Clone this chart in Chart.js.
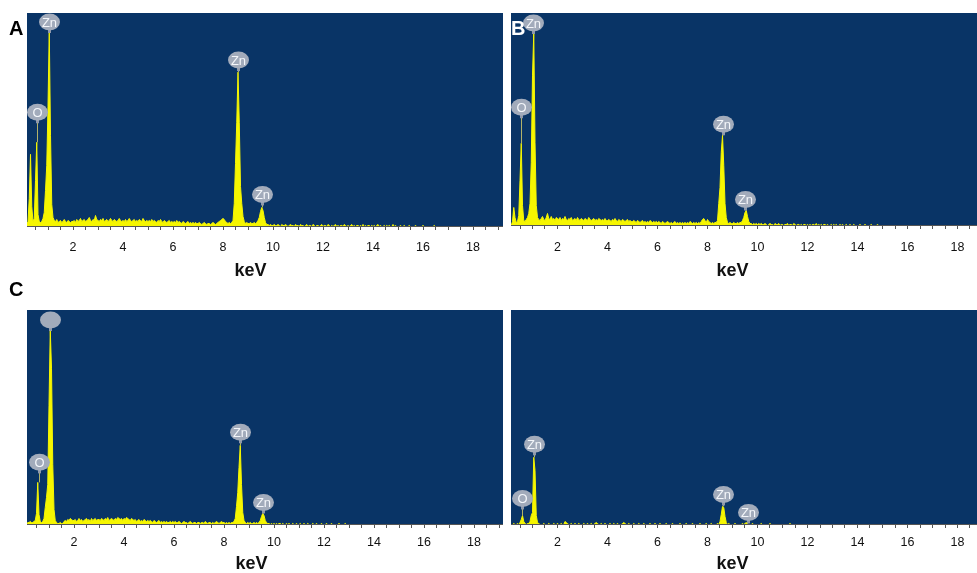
<!DOCTYPE html>
<html>
<head>
<meta charset="utf-8">
<script src="https://cdn.jsdelivr.net/npm/chart.js@4.4.1/dist/chart.umd.min.js"></script>
<style>
  body { margin: 0; width: 977px; height: 573px; overflow: hidden; background: #fff; position: relative; }
  .panel { position: absolute; }
  .tag { position: absolute; font: bold 20px Arial, "Liberation Sans", sans-serif; line-height: 20px; color: #000; z-index: 2; }
</style>
</head>
<body>
<div class="panel" style="left:0;top:0"><canvas id="specA" width="503" height="290"></canvas></div>
<div class="panel" style="left:503px;top:0"><canvas id="specB" width="474" height="290"></canvas></div>
<div class="panel" style="left:0;top:290px"><canvas id="specC" width="503" height="290"></canvas></div>
<div class="panel" style="left:503px;top:290px"><canvas id="specD" width="474" height="290"></canvas></div>
<div class="tag" style="left:9px;top:18px">A</div>
<div class="tag" style="left:511px;top:18px;color:#fff">B</div>
<div class="tag" style="left:9px;top:279px">C</div>

<script>
// channel width in keV, channel i sits at i * keVStep (0 .. 19.2 keV)
const keVStep = 0.05;

// counts per channel, one row per keV
const countsA = [
  0,0,0,3,5,28,72,20,5,8,46,84,12,5,4,5,8,14,36,61,
  120,196,91,22,9,6,5,7,4,5,6,4,5,7,5,4,6,5,4,5,
  5,6,4,7,5,6,8,5,6,7,5,6,7,9,6,5,7,6,11,7,
  6,5,7,6,8,5,6,7,5,6,8,6,5,7,6,5,6,8,6,5,
  6,5,7,5,6,8,6,5,6,7,5,6,5,7,6,5,8,6,5,6,
  5,6,5,7,5,6,5,4,6,5,7,5,4,6,5,4,5,6,4,5,
  4,5,4,6,4,5,4,3,5,4,3,4,5,3,4,3,4,3,4,3,
  3,4,3,2,3,4,3,2,3,3,2,3,4,3,2,3,4,5,6,7,
  8,7,5,4,3,4,3,4,6,23,63,104,154,104,40,23,10,5,3,4,
  3,3,4,3,3,4,3,4,6,9,15,19,16,9,4,2,2,1,2,1,
  1,2,1,1,2,1,0,2,1,1,2,1,0,1,2,1,1,0,2,1,
  1,0,2,1,1,0,1,2,0,1,1,0,2,1,0,1,1,0,1,2,
  0,1,1,0,2,1,0,1,0,1,2,0,1,0,1,1,0,2,1,0,
  1,0,1,2,0,1,0,1,1,0,1,0,2,0,1,0,1,1,0,1,
  0,1,0,1,2,0,1,0,0,1,0,1,0,1,0,0,2,0,1,0,
  0,0,1,0,0,1,0,0,0,1,0,0,0,0,1,0,0,0,0,0,
  1,0,0,0,0,0,0,0,0,1,0,0,0,0,0,0,0,0,0,0,
  0,0,0,0,0,0,0,0,0,0,0,0,0,0,0,0,0,0,0,0,
  0,0,0,0,0,0,0,0,0,0,0,0,0,0,0,0,0,0,0,0,
  0,0,0,0,0
];
const countsB = [
  0,0,0,0,4,18,8,3,4,10,45,82,20,5,4,6,8,12,22,63,
  150,192,83,20,8,6,5,7,9,6,5,8,12,7,6,9,6,7,5,8,
  7,6,8,5,7,6,9,6,5,7,6,8,5,6,7,5,8,6,5,7,
  6,5,7,6,5,8,6,5,6,7,5,6,5,7,6,5,6,5,7,5,
  5,6,5,4,6,5,7,5,4,6,5,4,6,5,4,5,6,4,5,4,
  4,5,4,3,5,4,3,4,5,3,4,3,4,3,5,4,3,4,3,4,
  3,4,3,2,4,3,2,3,4,3,2,3,2,3,4,2,3,2,3,2,
  3,2,3,2,3,2,4,3,2,3,2,3,2,3,2,4,6,7,5,3,
  6,4,3,2,3,2,3,3,5,22,38,73,90,60,22,8,3,2,3,2,
  2,3,2,2,3,2,3,3,5,8,13,15,9,4,2,2,1,2,1,2,
  1,2,1,2,1,1,2,1,0,1,2,1,1,0,2,1,1,2,0,1,
  1,0,1,1,2,0,1,1,0,2,1,0,1,1,0,1,0,1,1,0,
  1,0,1,0,1,1,0,2,0,1,0,1,0,1,1,0,1,0,0,1,
  0,1,0,1,0,0,1,0,1,0,0,1,0,0,1,0,0,1,0,0,
  0,0,1,0,0,0,1,0,0,0,0,1,0,0,0,0,1,0,0,0,
  0,0,0,0,0,0,0,0,0,0,0,0,0,0,0,0,0,0,0,0,
  0,0,0,0,0,0,0,0,0,0,0,0,0,0,0,0,0,0,0,0,
  0,0,0,0,0,0,0,0,0,0,0,0,0,0,0,0,0,0,0,0,
  0,0,0,0,0,0,0,0,0,0,0,0,0,0,0,0,0,0,0,0,
  0,0,0,0,0
];
const countsC = [
  0,0,0,2,2,3,2,2,3,4,11,42,10,3,2,3,6,17,27,40,
  119,194,156,60,15,4,2,1,1,2,1,1,3,4,3,5,4,6,5,4,
  4,5,3,4,6,4,5,3,4,5,6,4,5,3,6,4,5,6,4,5,
  5,4,6,5,4,6,5,7,4,5,6,5,4,6,5,7,6,5,6,4,
  6,5,7,6,5,4,6,5,4,5,3,4,5,3,4,3,5,4,3,4,
  3,4,3,2,4,3,2,3,4,2,3,2,3,2,3,2,2,3,2,3,
  2,3,2,2,3,2,1,2,3,2,2,1,2,3,2,1,2,2,1,2,
  2,1,2,2,1,3,2,1,2,2,1,2,1,2,3,2,1,2,3,2,
  2,1,2,1,2,1,2,2,3,6,18,32,57,79,40,12,4,2,1,2,
  1,2,1,1,2,1,2,1,2,4,8,11,9,4,2,1,1,0,1,0,
  1,0,1,0,1,1,0,1,0,0,1,0,1,0,0,1,0,0,1,0,
  0,1,0,0,1,0,0,1,0,0,0,1,0,0,1,0,0,0,1,0,
  0,0,1,0,0,0,1,0,0,0,0,0,1,0,0,0,0,1,0,0,
  0,0,0,0,0,0,0,0,0,0,0,0,0,0,0,0,0,0,0,0,
  0,0,0,0,0,0,0,0,0,0,0,0,0,0,0,0,0,0,0,0,
  0,0,0,0,0,0,0,0,0,0,0,0,0,0,0,0,0,0,0,0,
  0,0,0,0,0,0,0,0,0,0,0,0,0,0,0,0,0,0,0,0,
  0,0,0,0,0,0,0,0,0,0,0,0,0,0,0,0,0,0,0,0,
  0,0,0,0,0,0,0,0,0,0,0,0,0,0,0,0,0,0,0,0,
  0,0,0,0,0
];
const countsD = [
  0,0,0,0,0,1,0,0,1,0,2,5,9,3,1,0,1,1,3,9,
  12,67,54,9,2,1,0,0,0,1,0,0,0,1,0,0,0,1,0,0,
  1,0,0,1,0,0,3,2,1,0,0,1,0,0,1,0,0,1,0,0,
  0,1,0,0,1,0,0,1,0,0,1,2,1,0,0,1,0,0,1,0,
  0,0,1,0,0,1,0,0,1,0,0,0,1,2,1,0,0,1,0,0,
  0,1,0,0,0,1,0,0,0,1,0,0,0,0,1,0,0,0,1,0,
  0,0,1,0,0,0,0,1,0,0,0,0,1,0,0,0,0,0,1,0,
  0,0,0,1,0,0,0,0,1,0,0,0,0,0,1,0,0,0,0,1,
  0,0,0,1,0,0,0,0,1,0,3,10,18,17,8,2,0,1,0,0,
  0,0,1,0,0,0,0,0,1,0,1,2,1,0,0,0,1,0,0,0,
  0,0,0,1,0,0,0,0,0,0,1,0,0,0,0,0,0,0,0,0,
  0,0,0,0,0,0,1,0,0,0,0,0,0,0,0,0,0,0,0,0,
  0,0,0,0,0,0,0,0,0,0,0,0,0,0,0,0,0,0,0,0,
  0,0,0,0,0,0,0,0,0,0,0,0,0,0,0,0,0,0,0,0,
  0,0,0,0,0,0,0,0,0,0,0,0,0,0,0,0,0,0,0,0,
  0,0,0,0,0,0,0,0,0,0,0,0,0,0,0,0,0,0,0,0,
  0,0,0,0,0,0,0,0,0,0,0,0,0,0,0,0,0,0,0,0,
  0,0,0,0,0,0,0,0,0,0,0,0,0,0,0,0,0,0,0,0,
  0,0,0,0,0,0,0,0,0,0,0,0,0,0,0,0,0,0,0,0,
  0,0,0,0,0
];

// element markers: energy, height of the bubble, text
const tagKeVA = [1.04, 0.56, 8.61, 9.56];
const tagAtA = [204, 114, 166, 32];
const tagTextA = ['Zn', 'O', 'Zn', 'Zn'];
const tagKeVB = [1.02, 0.54, 8.62, 9.5];
const tagAtB = [202, 118, 101, 26];
const tagTextB = ['Zn', 'O', 'Zn', 'Zn'];
const tagKeVC = [1.04, 0.58, 8.62, 9.56];
const tagAtC = [204, 62, 92, 22];
const tagTextC = ['', 'O', 'Zn', 'Zn'];
const tagKeVD = [1.05, 0.59, 8.63, 9.6];
const tagAtD = [80, 26, 30, 12];
const tagTextD = ['Zn', 'O', 'Zn', 'Zn'];

const tickLabels = [2, 4, 6, 8, 10, 12, 14, 16, 18];

const FONT = 'Arial, "Liberation Sans", sans-serif';
const BLUE = '#093466';
const YELLOW = '#f6f600';

const specPlugin = {
  id: 'spec',
  beforeDraw(chart) {
    const a = chart.chartArea, ctx = chart.ctx;
    ctx.save();
    ctx.fillStyle = BLUE;
    ctx.fillRect(a.left, a.top, a.right - a.left, a.bottom - a.top);
    ctx.restore();
  },
  afterDatasetsDraw(chart, args, opts) {
    const xs = chart.scales.x, ys = chart.scales.y, ctx = chart.ctx;
    const pts = chart.data.datasets[0].data;
    opts.keV.forEach((e, k) => {
      const px = Math.round(xs.getPixelForValue(e)) + 0.5;
      const py = ys.getPixelForValue(opts.at[k]);
      let peak = 0;
      pts.forEach(p => { if (Math.abs(p.x - e) <= 0.06) peak = Math.max(peak, p.y); });
      const pk = ys.getPixelForValue(peak);
      ctx.save();
      ctx.strokeStyle = '#b2b26a';
      ctx.lineWidth = 1;
      ctx.beginPath();
      ctx.moveTo(px, py + 8);
      ctx.lineTo(px, pk);
      ctx.stroke();
      ctx.fillStyle = '#8e98aa';
      ctx.fillRect(px - 1.5, py + 6, 3, 5);
      ctx.fillStyle = '#a2abbb';
      ctx.beginPath();
      ctx.ellipse(px, py, 10.5, 8.5, 0, 0, Math.PI * 2);
      ctx.fill();
      ctx.fillStyle = '#f4f6fa';
      ctx.font = '13px ' + FONT;
      ctx.textAlign = 'center';
      ctx.textBaseline = 'middle';
      ctx.fillText(opts.text[k], px, py + 1);
      ctx.restore();
    });
  },
  afterDraw(chart, args, opts) {
    // axis title, centred near 9 keV like the original
    const xs = chart.scales.x, ctx = chart.ctx;
    ctx.save();
    ctx.font = 'bold 18px ' + FONT;
    ctx.fillStyle = '#111';
    ctx.textAlign = 'center';
    ctx.textBaseline = 'middle';
    ctx.fillText('keV', xs.getPixelForValue(opts.titleAt), opts.titleY);
    ctx.restore();
  }
};

function makeSpectrum(id, counts, tagKeV, tagAt, tagText, o) {
  const pts = counts.map((c, i) => ({ x: i * keVStep, y: c }));
  return new Chart(document.getElementById(id), {
    type: 'line',
    data: {
      datasets: [{
        data: pts,
        borderColor: YELLOW,
        backgroundColor: YELLOW,
        borderWidth: 1,
        fill: 'origin',
        pointRadius: 0,
        tension: 0,
        clip: 0
      }]
    },
    options: {
      responsive: false,
      animation: false,
      events: [],
      layout: { padding: { left: o.left, top: o.top, right: 0, bottom: 0 } },
      plugins: {
        legend: { display: false },
        tooltip: { enabled: false },
        spec: { keV: tagKeV, at: tagAt, text: tagText, titleAt: o.titleAt, titleY: o.titleY }
      },
      scales: {
        x: {
          type: 'linear',
          min: o.min,
          max: o.max,
          // plot box runs right up to the canvas edge
          afterFit: s => { s.height = o.axisH; s.paddingLeft = 0; s.paddingRight = 0; },
          border: { display: true, color: '#555', width: 1 },
          grid: { drawOnChartArea: false, drawTicks: true, tickLength: 4, color: '#555' },
          ticks: {
            stepSize: 0.5,
            includeBounds: false,
            autoSkip: false,
            maxRotation: 0,
            padding: o.tickPad,
            color: '#111',
            font: { size: 12.5, family: FONT },
            callback: v => tickLabels.includes(v) ? String(v) : ''
          }
        },
        y: { display: false, min: 0.5, max: o.ymax }
      }
    },
    plugins: [specPlugin]
  });
}

makeSpectrum('specA', countsA, tagKeVA, tagAtA, tagTextA,
  { left: 27, top: 13, axisH: 64, min: 0.16, max: 19.2, ymax: 213, tickPad: 10, titleAt: 9.1, titleY: 271.5 });
makeSpectrum('specB', countsB, tagKeVB, tagAtB, tagTextB,
  { left: 8, top: 13, axisH: 65, min: 0.14, max: 18.78, ymax: 212, tickPad: 11, titleAt: 9.0, titleY: 271.5 });
makeSpectrum('specC', countsC, tagKeVC, tagAtC, tagTextC,
  { left: 27, top: 20, axisH: 56, min: 0.12, max: 19.16, ymax: 214, tickPad: 7, titleAt: 9.1, titleY: 274.5 });
makeSpectrum('specD', countsD, tagKeVD, tagAtD, tagTextD,
  { left: 8, top: 20, axisH: 56, min: 0.14, max: 18.78, ymax: 214, tickPad: 7, titleAt: 9.0, titleY: 274.5 });
</script>
</body>
</html>
